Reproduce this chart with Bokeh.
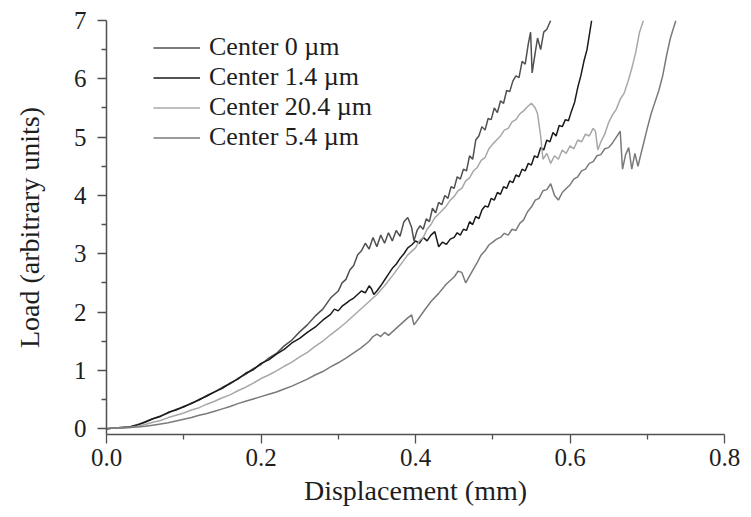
from bokeh.plotting import figure
from bokeh.models import FixedTicker, NumeralTickFormatter, Legend, LegendItem, Range1d
from bokeh.embed import file_html
from bokeh.resources import INLINE

# ---------------- data ----------------
x_c0 = [0.000, 0.010, 0.020, 0.030, 0.040, 0.050, 0.060, 0.070, 0.080, 0.090,
        0.100, 0.110, 0.120, 0.130, 0.140, 0.150, 0.160, 0.170, 0.180, 0.190,
        0.200, 0.210, 0.220, 0.230, 0.240, 0.250, 0.260, 0.270, 0.280, 0.290,
        0.300, 0.305, 0.310, 0.315, 0.320, 0.325, 0.330, 0.335, 0.340, 0.345,
        0.350, 0.355, 0.360, 0.365, 0.370, 0.375, 0.380, 0.385, 0.390, 0.395,
        0.398, 0.402, 0.406, 0.410, 0.414, 0.418, 0.422, 0.426, 0.430, 0.434,
        0.438, 0.442, 0.446, 0.450, 0.454, 0.458, 0.462, 0.466, 0.470, 0.474,
        0.478, 0.482, 0.486, 0.490, 0.494, 0.498, 0.502, 0.506, 0.510, 0.514,
        0.518, 0.522, 0.526, 0.530, 0.534, 0.538, 0.542, 0.546, 0.549, 0.551,
        0.555, 0.558, 0.562, 0.566, 0.570, 0.575]
y_c0 = [0.00, 0.01, 0.02, 0.03, 0.07, 0.12, 0.17, 0.22, 0.27, 0.33,
        0.37, 0.44, 0.49, 0.57, 0.63, 0.71, 0.77, 0.86, 0.93, 1.03,
        1.10, 1.21, 1.29, 1.42, 1.52, 1.66, 1.78, 1.93, 2.05, 2.24,
        2.36, 2.50, 2.56, 2.72, 2.80, 2.98, 3.05, 3.18, 3.08, 3.28,
        3.12, 3.32, 3.18, 3.36, 3.22, 3.40, 3.30, 3.55, 3.62, 3.45,
        3.22, 3.40, 3.48, 3.42, 3.60, 3.55, 3.78, 3.70, 3.88, 3.84,
        4.00, 3.95, 4.15, 4.12, 4.32, 4.28, 4.45, 4.42, 4.68, 4.62,
        4.95, 5.02, 5.18, 5.12, 5.32, 5.30, 5.50, 5.42, 5.62, 5.58,
        5.80, 5.78, 5.96, 6.05, 6.02, 6.30, 6.25, 6.60, 6.80, 6.10,
        6.45, 6.70, 6.50, 6.80, 6.85, 7.00]

x_c14 = [0.000, 0.010, 0.020, 0.030, 0.040, 0.050, 0.060, 0.070, 0.080, 0.090,
         0.100, 0.110, 0.120, 0.130, 0.140, 0.150, 0.160, 0.170, 0.180, 0.190,
         0.200, 0.210, 0.220, 0.230, 0.240, 0.250, 0.260, 0.270, 0.280, 0.290,
         0.295, 0.300, 0.305, 0.310, 0.315, 0.320, 0.325, 0.330, 0.335, 0.340,
         0.343, 0.346, 0.350, 0.355, 0.360, 0.365, 0.370, 0.375, 0.380, 0.385,
         0.390, 0.395, 0.400, 0.405, 0.410, 0.415, 0.420, 0.425, 0.430, 0.435,
         0.440, 0.445, 0.450, 0.454, 0.458, 0.462, 0.466, 0.470, 0.474, 0.478,
         0.482, 0.486, 0.490, 0.494, 0.498, 0.502, 0.506, 0.510, 0.514, 0.518,
         0.522, 0.526, 0.530, 0.534, 0.538, 0.542, 0.546, 0.550, 0.554, 0.558,
         0.562, 0.566, 0.570, 0.574, 0.578, 0.582, 0.586, 0.590, 0.594, 0.598,
         0.602, 0.606, 0.610, 0.614, 0.618, 0.622, 0.625, 0.628]
y_c14 = [0.00, 0.01, 0.02, 0.03, 0.06, 0.11, 0.17, 0.21, 0.28, 0.32,
         0.38, 0.43, 0.50, 0.56, 0.63, 0.69, 0.78, 0.85, 0.95, 1.01,
         1.12, 1.18, 1.28, 1.36, 1.47, 1.55, 1.65, 1.74, 1.86, 1.96,
         2.05, 2.02, 2.10, 2.15, 2.20, 2.24, 2.30, 2.36, 2.33, 2.45,
         2.40, 2.30, 2.36, 2.45, 2.55, 2.65, 2.75, 2.82, 2.92, 3.00,
         3.10, 3.15, 3.22, 3.18, 3.28, 3.22, 3.32, 3.38, 3.12, 3.20,
         3.16, 3.25, 3.28, 3.36, 3.32, 3.42, 3.40, 3.55, 3.50, 3.64,
         3.60, 3.75, 3.82, 3.80, 3.95, 3.92, 4.05, 4.02, 4.15, 4.12,
         4.25, 4.22, 4.35, 4.32, 4.45, 4.42, 4.55, 4.52, 4.68, 4.65,
         4.82, 4.78, 4.95, 4.92, 5.08, 5.02, 5.20, 5.18, 5.30, 5.28,
         5.45, 5.60, 5.85, 6.05, 6.30, 6.50, 6.75, 7.00]

x_c204 = [0.000, 0.010, 0.020, 0.030, 0.040, 0.050, 0.060, 0.070, 0.080, 0.090,
          0.100, 0.110, 0.120, 0.130, 0.140, 0.150, 0.160, 0.170, 0.180, 0.190,
          0.200, 0.210, 0.220, 0.230, 0.240, 0.250, 0.260, 0.270, 0.280, 0.290,
          0.300, 0.310, 0.320, 0.330, 0.340, 0.350, 0.360, 0.370, 0.380, 0.390,
          0.400, 0.405, 0.410, 0.415, 0.420, 0.425, 0.430, 0.435, 0.440, 0.445,
          0.450, 0.455, 0.460, 0.465, 0.470, 0.475, 0.480, 0.485, 0.490, 0.495,
          0.500, 0.505, 0.510, 0.515, 0.520, 0.525, 0.530, 0.535, 0.540, 0.545,
          0.550, 0.555, 0.558, 0.562, 0.565, 0.570, 0.575, 0.580, 0.585, 0.590,
          0.595, 0.600, 0.605, 0.610, 0.615, 0.620, 0.625, 0.630, 0.633, 0.636,
          0.640, 0.645, 0.650, 0.655, 0.660, 0.665, 0.670, 0.675, 0.680, 0.685,
          0.690, 0.695]
y_c204 = [0.00, 0.01, 0.02, 0.02, 0.04, 0.07, 0.11, 0.14, 0.19, 0.23,
          0.27, 0.32, 0.36, 0.42, 0.47, 0.53, 0.58, 0.65, 0.71, 0.78,
          0.86, 0.92, 0.99, 1.07, 1.14, 1.23, 1.31, 1.41, 1.50, 1.61,
          1.71, 1.82, 1.94, 2.06, 2.18, 2.30, 2.45, 2.62, 2.80, 2.98,
          3.10, 3.22, 3.28, 3.42, 3.50, 3.62, 3.68, 3.75, 3.82, 3.92,
          3.98, 4.08, 4.12, 4.25, 4.30, 4.42, 4.48, 4.60, 4.65, 4.80,
          4.88, 4.95, 5.02, 5.12, 5.15, 5.26, 5.30, 5.40, 5.45, 5.52,
          5.58, 5.50, 5.40, 5.02, 4.62, 4.72, 4.55, 4.68, 4.62, 4.78,
          4.72, 4.85, 4.80, 4.95, 4.92, 5.05, 5.02, 5.15, 5.10, 4.78,
          4.92, 5.05, 5.25, 5.38, 5.48, 5.65, 5.75, 5.95, 6.18, 6.45,
          6.80, 7.00]

x_c54 = [0.000, 0.010, 0.020, 0.030, 0.040, 0.050, 0.060, 0.070, 0.080, 0.090,
         0.100, 0.110, 0.120, 0.130, 0.140, 0.150, 0.160, 0.170, 0.180, 0.190,
         0.200, 0.210, 0.220, 0.230, 0.240, 0.250, 0.260, 0.270, 0.280, 0.290,
         0.300, 0.310, 0.320, 0.330, 0.340, 0.345, 0.350, 0.355, 0.360, 0.365,
         0.370, 0.375, 0.380, 0.385, 0.390, 0.395, 0.398, 0.402, 0.410, 0.420,
         0.430, 0.440, 0.450, 0.455, 0.460, 0.465, 0.470, 0.480, 0.485, 0.490,
         0.495, 0.500, 0.505, 0.510, 0.515, 0.520, 0.525, 0.530, 0.535, 0.540,
         0.545, 0.550, 0.555, 0.560, 0.565, 0.570, 0.575, 0.580, 0.585, 0.590,
         0.595, 0.600, 0.605, 0.610, 0.615, 0.620, 0.625, 0.630, 0.635, 0.640,
         0.645, 0.650, 0.655, 0.660, 0.665, 0.668, 0.672, 0.676, 0.680, 0.684,
         0.688, 0.692, 0.700, 0.705, 0.710, 0.715, 0.720, 0.725, 0.730, 0.737]
y_c54 = [0.00, 0.01, 0.01, 0.02, 0.03, 0.04, 0.06, 0.08, 0.10, 0.13,
         0.16, 0.19, 0.23, 0.26, 0.30, 0.34, 0.38, 0.43, 0.47, 0.51,
         0.55, 0.59, 0.63, 0.68, 0.73, 0.79, 0.85, 0.92, 0.98, 1.06,
         1.13, 1.21, 1.30, 1.39, 1.50, 1.58, 1.62, 1.58, 1.65, 1.60,
         1.66, 1.72, 1.78, 1.84, 1.90, 1.95, 1.78, 1.85, 2.00, 2.18,
         2.32, 2.48, 2.60, 2.70, 2.68, 2.50, 2.62, 2.85, 2.98, 3.05,
         3.15, 3.20, 3.25, 3.28, 3.35, 3.32, 3.42, 3.40, 3.52, 3.58,
         3.72, 3.80, 3.92, 3.95, 4.08, 4.10, 4.20, 4.00, 3.92, 4.05,
         4.12, 4.18, 4.28, 4.32, 4.42, 4.45, 4.55, 4.58, 4.68, 4.70,
         4.80, 4.82, 4.90, 5.00, 5.10, 4.45, 4.70, 4.82, 4.45, 4.72,
         4.50, 4.72, 5.15, 5.40, 5.60, 5.80, 6.05, 6.40, 6.70, 7.00]

series_names = ["Center 0 \u00b5m", "Center 1.4 \u00b5m", "Center 20.4 \u00b5m", "Center 5.4 \u00b5m"]
x_ticks = [0.0, 0.2, 0.4, 0.6, 0.8]
x_minor = [0.1, 0.3, 0.5, 0.7]
y_ticks = [0, 1, 2, 3, 4, 5, 6, 7]
y_minor = [0.5, 1.5, 2.5, 3.5, 4.5, 5.5, 6.5]

colors = ["#505050", "#1a1a1a", "#a8a8a8", "#7a7a7a"]
FONT = "Liberation Serif"
TXT = "#1e1e1e"
AX = "#505050"

p = figure(width=751, height=517, output_backend="svg", toolbar_location=None,
           x_range=Range1d(0, 0.8), y_range=Range1d(-0.1, 7.0),
           min_border_left=106, min_border_right=27, min_border_top=20,
           min_border_bottom=83)
p.outline_line_color = None
p.grid.visible = False
p.background_fill_color = "white"
p.border_fill_color = "white"

renderers = []
for xs, ys, c in zip([x_c0, x_c14, x_c204, x_c54], [y_c0, y_c14, y_c204, y_c54], colors):
    r = p.line(xs, ys, line_color=c, line_width=1.5)
    renderers.append(r)

for ax in (p.xaxis[0], p.yaxis[0]):
    ax.axis_line_color = AX
    ax.axis_line_width = 1.5
    ax.major_tick_line_color = AX
    ax.minor_tick_line_color = AX
    ax.major_tick_line_width = 1.3
    ax.minor_tick_line_width = 1.3
    ax.major_tick_in = 0
    ax.major_tick_out = 9
    ax.minor_tick_in = 0
    ax.minor_tick_out = 5
    ax.major_label_text_font = FONT
    ax.major_label_text_font_size = "25px"
    ax.major_label_text_color = TXT
    ax.axis_label_text_font = FONT
    ax.axis_label_text_font_size = "28px"
    ax.axis_label_text_font_style = "normal"
    ax.axis_label_text_color = TXT

p.xaxis[0].ticker = FixedTicker(ticks=x_ticks, minor_ticks=x_minor)
p.yaxis[0].ticker = FixedTicker(ticks=y_ticks, minor_ticks=y_minor)
p.xaxis[0].formatter = NumeralTickFormatter(format="0.0")
p.xaxis[0].axis_label = "Displacement (mm)"
p.yaxis[0].axis_label = "Load (arbitrary units)"
p.xaxis[0].major_label_standoff = 5
p.yaxis[0].major_label_standoff = 11
p.xaxis[0].axis_label_standoff = 6
p.yaxis[0].axis_label_standoff = 26

legend = Legend(items=[LegendItem(label=n, renderers=[r]) for n, r in zip(series_names, renderers)],
                location=(47, 282))
legend.border_line_color = None
legend.background_fill_alpha = 0
legend.padding = 0
legend.margin = 0
legend.spacing = 0
legend.glyph_width = 47
legend.glyph_height = 29
legend.label_height = 29
legend.label_standoff = 9
legend.label_text_font = FONT
legend.label_text_font_size = "26px"
legend.label_text_color = TXT
p.add_layout(legend)

open("out.html", "w").write(file_html(p, INLINE))
